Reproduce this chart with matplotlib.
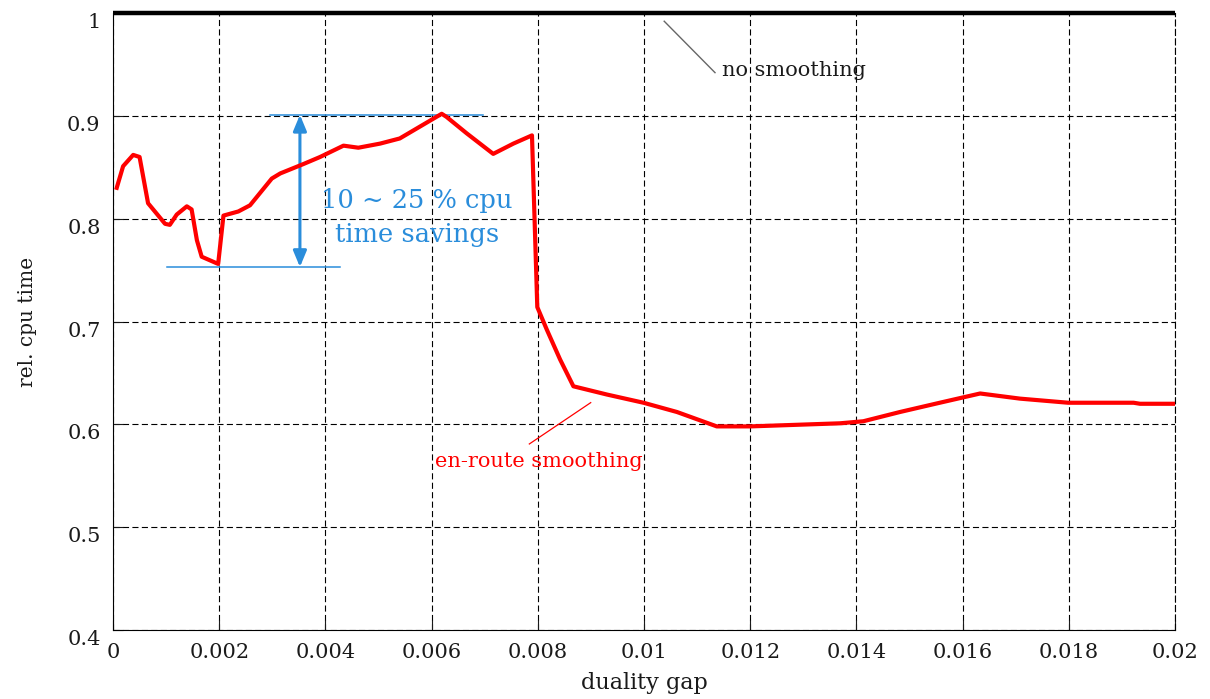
"""
描述：相对cpu时间随对偶间隙变化曲线
"""

import matplotlib
matplotlib.use("Agg")
from matplotlib import pyplot as plt

# 对偶间隙
gap = [0.00007, 0.00019, 0.00038, 0.0005, 0.00066, 0.00098, 0.00107, 0.0012,
       0.00139, 0.00148, 0.00158, 0.00167, 0.00198, 0.00208, 0.00236, 0.00258,
       0.00299, 0.00315, 0.00358, 0.0039, 0.00434, 0.00462, 0.00503, 0.0054,
       0.00619, 0.00628, 0.00666, 0.00716, 0.00754, 0.00789, 0.00799, 0.00817,
       0.00842, 0.00867, 0.0093, 0.00999, 0.01062, 0.01137, 0.012, 0.01369,
       0.01413, 0.01482, 0.01557, 0.01633, 0.01708, 0.01799, 0.01922, 0.01934,
       0.02]
# en-route smoothing 的相对cpu时间
rel_time = [0.830, 0.851, 0.862, 0.860, 0.815, 0.795, 0.794, 0.804,
            0.812, 0.809, 0.779, 0.763, 0.756, 0.803, 0.807, 0.813,
            0.839, 0.844, 0.853, 0.860, 0.871, 0.869, 0.873, 0.878,
            0.902, 0.899, 0.883, 0.863, 0.873, 0.881, 0.714, 0.692,
            0.663, 0.637, 0.629, 0.621, 0.612, 0.598, 0.598, 0.601,
            0.603, 0.612, 0.621, 0.630, 0.625, 0.621, 0.621, 0.620,
            0.620]
# no smoothing 作为基准
base_gap = [0.0, 0.02]
base_time = [1.0, 1.0]

xticks = [0, 0.002, 0.004, 0.006, 0.008, 0.01, 0.012, 0.014, 0.016, 0.018, 0.02]
xtick_labels = ["0", "0.002", "0.004", "0.006", "0.008", "0.01", "0.012",
                "0.014", "0.016", "0.018", "0.02"]
yticks = [0.4, 0.5, 0.6, 0.7, 0.8, 0.9, 1.0]
ytick_labels = ["0.4", "0.5", "0.6", "0.7", "0.8", "0.9", "1"]

# 节省幅度标注的上下限
save_low = 0.753
save_high = 0.901

if __name__ == "__main__":
    plt.rcParams['font.family'] = ['DejaVu Serif']
    blue = "#2a8ddb"
    dash = (0, (5.5, 3))

    fig = plt.figure(figsize=(12.1, 6.99), dpi=100)
    ax = fig.add_axes([0.0934, 0.0987, 0.8777, 0.8827])

    ax.set_xlim(0, 0.02)
    ax.set_ylim(0.4, 1.0)
    ax.set_xticks(xticks)
    ax.set_xticklabels(xtick_labels)
    ax.set_yticks(yticks)
    ax.set_yticklabels(ytick_labels)
    plt.setp(ax.get_yticklabels(), va="top")
    ax.tick_params(direction="in", length=7, width=0.8, labelsize=15, pad=9,
                   colors="#1a1a1a")

    # 虚线网格，右边框也用虚线
    ax.grid(True, color="black", linewidth=0.8, linestyle=dash)
    ax.spines["top"].set_visible(False)
    ax.spines["right"].set_linestyle(dash)
    ax.spines["right"].set_linewidth(0.8)
    ax.spines["left"].set_linewidth(0.8)
    ax.spines["bottom"].set_linewidth(0.8)

    ax.plot(base_gap, base_time, color="black", linewidth=3.2, clip_on=False,
            solid_capstyle="butt", zorder=5)
    ax.plot(gap, rel_time, color="red", linewidth=3.0, zorder=4)

    # 节省区间标注
    ax.plot([0.00102, 0.00427], [save_low, save_low], color=blue, linewidth=1.1)
    ax.plot([0.00296, 0.00697], [save_high, save_high], color=blue, linewidth=1.1)
    ax.annotate("", xy=(0.00352, save_high), xytext=(0.00352, save_low),
                arrowprops=dict(arrowstyle="<|-|>,head_length=0.6,head_width=0.25",
                                color=blue, lw=2.2, mutation_scale=16,
                                shrinkA=0, shrinkB=0))
    ax.text(0.00572, 0.8008, "10 ~ 25 % cpu\ntime savings", color=blue,
            fontsize=18.5, ha="center", va="center", linespacing=1.45)

    # 曲线说明
    ax.plot([0.01038, 0.011337], [0.992, 0.942], color="#666666", linewidth=1.0)
    ax.text(0.011469, 0.9438, "no smoothing", fontsize=15, ha="left",
            va="center", color="#1a1a1a")
    ax.plot([0.00784, 0.008996], [0.5809, 0.6211], color="red", linewidth=0.9)
    ax.text(0.006064, 0.5634, "en-route smoothing", fontsize=15, ha="left",
            va="center", color="red")

    ax.set_xlabel("duality gap", fontsize=16, color="#1a1a1a", va="center")
    ax.set_ylabel("rel. cpu time", fontsize=14.5, color="#1a1a1a")
    ax.xaxis.set_label_coords(0.5, -0.086)
    ax.yaxis.set_label_coords(-0.072, 0.5)

    plt.savefig("out.png", dpi=100)
